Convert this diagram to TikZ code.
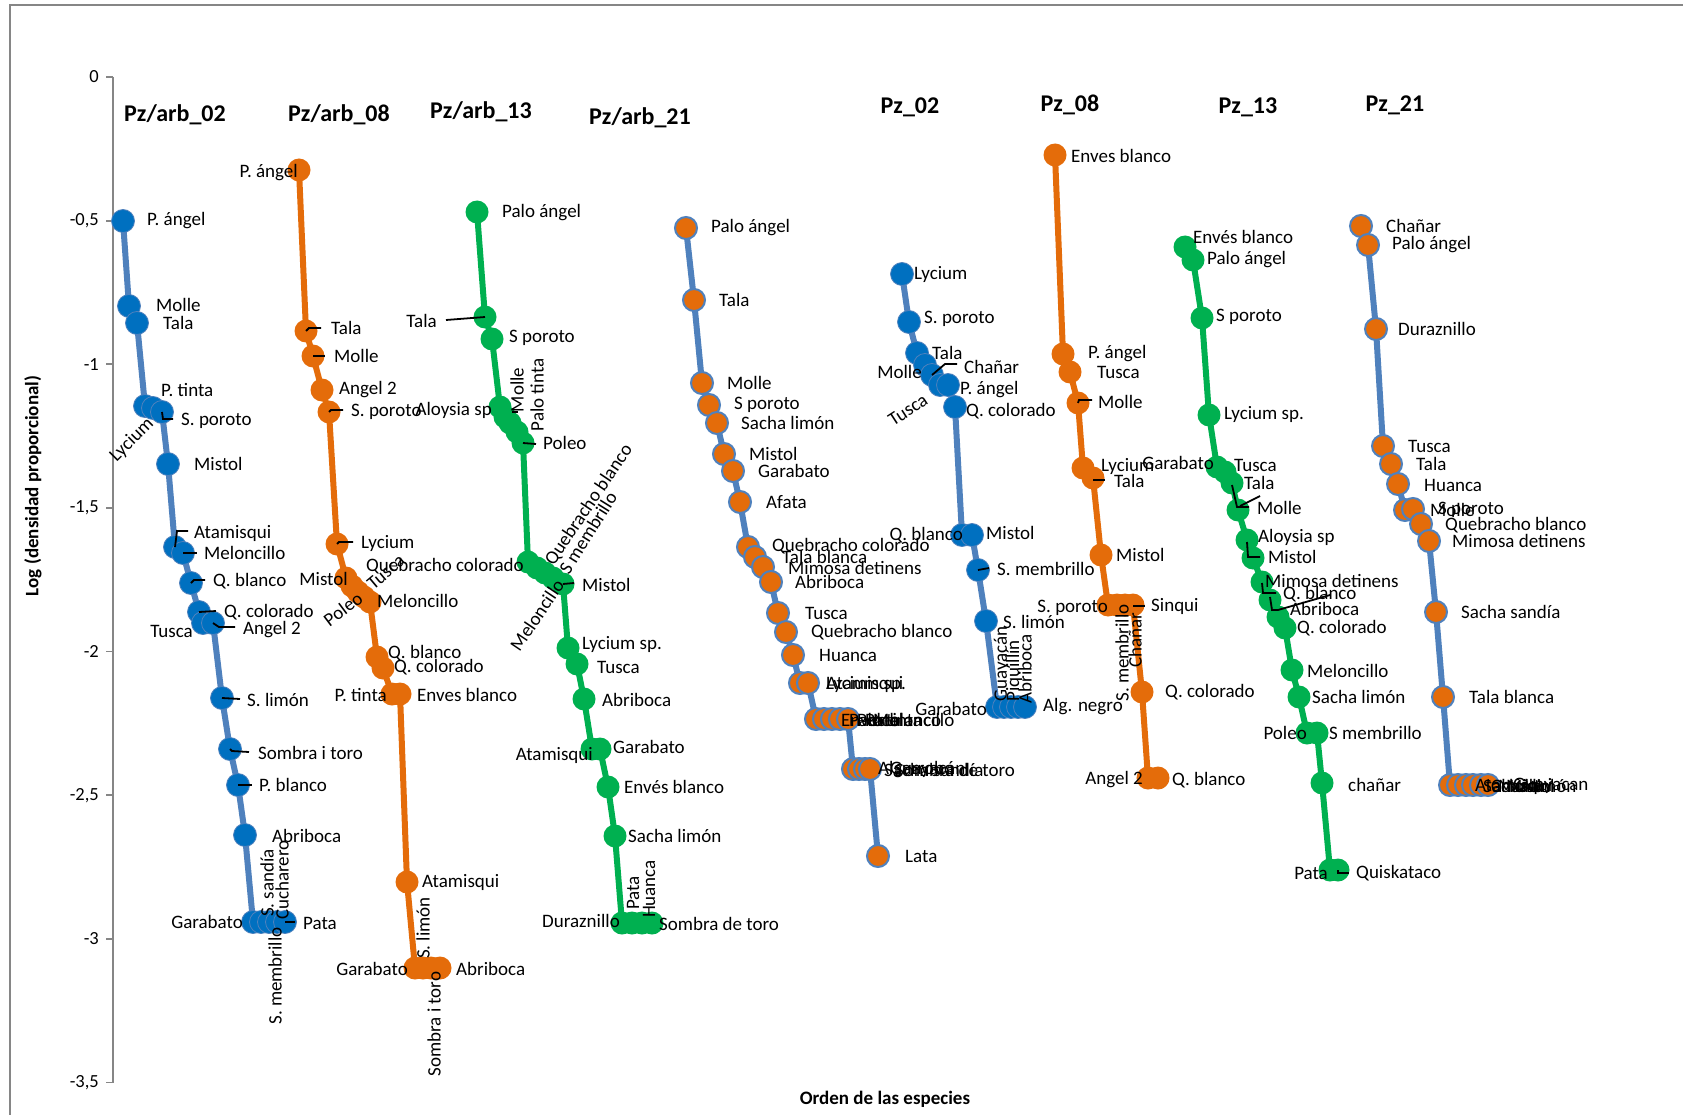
\documentclass[tikz,border=0pt]{standalone}
\usepackage{fontspec}
\setmainfont{Carlito}
\definecolor{dblue}{HTML}{0070C0}
\definecolor{lblue}{HTML}{4F81BD}
\definecolor{orng}{HTML}{E46C0A}
\definecolor{grn}{HTML}{00B050}
\definecolor{axgray}{HTML}{868686}
\tikzset{
 lab/.style={font=\fontsize{19}{19}\selectfont, inner sep=0pt, text=black},
 labr/.style={lab, anchor=west},
 labl/.style={lab, anchor=east},
 ttl/.style={font=\fontsize{24}{24}\selectfont\bfseries, inner sep=0pt},
 axt/.style={font=\fontsize{19}{19}\selectfont\bfseries, inner sep=0pt},
 tickl/.style={font=\fontsize{18.5}{18.5}\selectfont, inner sep=0pt, anchor=east},
 axis/.style={draw=axgray, line width=1.8pt},
 bdot/.style={circle, fill=dblue, draw=lblue, line width=0.8pt, minimum size=23pt, inner sep=0pt},
 odot/.style={circle, fill=orng, minimum size=23pt, inner sep=0pt},
 gdot/.style={circle, fill=grn, minimum size=23pt, inner sep=0pt},
 xdot/.style={circle, fill=orng, draw=lblue, line width=2pt, minimum size=22pt, inner sep=0pt},
 bline/.style={draw=lblue, line width=6pt, line join=round, line cap=round},
 oline/.style={draw=orng, line width=6pt, line join=round, line cap=round},
 gline/.style={draw=grn, line width=6pt, line join=round, line cap=round},
 lead/.style={draw=black, line width=1.8pt},
}
\begin{document}
\begin{tikzpicture}[x=1pt,y=-1pt]
\useasboundingbox (0,0) rectangle (1683,1115);
\fill[white] (0,0) rectangle (1683,1115);
% frame
\draw[draw=axgray, line width=2pt] (10,1115) -- (10,5) -- (1683,5);
% y axis
\draw[axis] (113,77) -- (113,1083);
\foreach \k in {0,...,7} \draw[axis] (106,77+143.64*\k) -- (113,77+143.64*\k);
\node[tickl] (t0) at (99,77) {0};
\node[tickl] (t1) at (99,220.6) {-0,5};
\node[tickl] (t2) at (99,364.3) {-1};
\node[tickl] (t3) at (99,507.9) {-1,5};
\node[tickl] (t4) at (99,651.6) {-2};
\node[tickl] (t5) at (99,795.2) {-2,5};
\node[tickl] (t6) at (99,938.8) {-3};
\node[tickl] (t7) at (99,1082.5) {-3,5};
\node[axt, rotate=90] (ylab) at (33,486) {Log (densidad proporcional)};
\node[axt] (xlab) at (885,1099) {Orden de las especies};
% titles
\node[ttl] (T1) at (175,115) {Pz/arb\_02};
\node[ttl] (T2) at (339,115) {Pz/arb\_08};
\node[ttl] (T3) at (481,112) {Pz/arb\_13};
\node[ttl] (T4) at (640,118) {Pz/arb\_21};
\node[ttl] (T5) at (910,107) {Pz\_02};
\node[ttl] (T6) at (1070,105) {Pz\_08};
\node[ttl] (T7) at (1248,107) {Pz\_13};
\node[ttl] (T8) at (1395,105) {Pz\_21};

% ===== Series A: Pz/arb_02
\coordinate (a1) at (123,221); \coordinate (a2) at (129,306); \coordinate (a3) at (137,323);
\coordinate (a4) at (145,406); \coordinate (a5) at (153,408); \coordinate (a6) at (162,412);
\coordinate (a7) at (168,464); \coordinate (a8) at (175,547); \coordinate (a9) at (183,553);
\coordinate (a10) at (191,583); \coordinate (a11) at (199,612); \coordinate (a12) at (203,623);
\coordinate (a13) at (213,623); \coordinate (a14) at (222,698); \coordinate (a15) at (230,749);
\coordinate (a16) at (238,785); \coordinate (a17) at (245,835); \coordinate (a18) at (253,922);
\coordinate (a19) at (261,922); \coordinate (a20) at (269,922); \coordinate (a21) at (277,922);
\coordinate (a22) at (285,922);
\draw[bline] (a1)--(a2)--(a3)--(a4)--(a5)--(a6)--(a7)--(a8)--(a9)--(a10)--(a11)--(a12)--(a13)--(a14)--(a15)--(a16)--(a17)--(a18)--(a19)--(a20)--(a21)--(a22);
\foreach \i in {1,...,22} \node[bdot] (A\i) at (a\i) {};

% ===== Series B: Pz/arb_08
\coordinate (b1) at (299,170); \coordinate (b2) at (306,331); \coordinate (b3) at (313,356);
\coordinate (b4) at (322,390); \coordinate (b5) at (329,412); \coordinate (b6) at (337,544);
\coordinate (b7) at (346,578); \coordinate (b8) at (352,586); \coordinate (b9) at (358,592);
\coordinate (b10) at (364,597); \coordinate (b11) at (370,602); \coordinate (b12) at (377,657);
\coordinate (b13) at (383,668); \coordinate (b14) at (392,694); \coordinate (b15) at (400,694);
\coordinate (b16) at (407,882); \coordinate (b17) at (415,968); \coordinate (b18) at (423,968);
\coordinate (b19) at (431,968); \coordinate (b20) at (440,968);
\draw[oline] (b1)--(b2)--(b3)--(b4)--(b5)--(b6)--(b7)--(b8)--(b9)--(b10)--(b11)--(b12)--(b13)--(b14)--(b15)--(b16)--(b17)--(b18)--(b19)--(b20);
\foreach \i in {1,...,20} \node[odot] (B\i) at (b\i) {};

% ===== Series C: Pz/arb_13
\coordinate (c1) at (477,212); \coordinate (c2) at (485,317); \coordinate (c3) at (492,339);
\coordinate (c4) at (500,407); \coordinate (c5) at (505,417); \coordinate (c6) at (510,423);
\coordinate (c7) at (517,432); \coordinate (c8) at (523,443); \coordinate (c9) at (528,562);
\coordinate (c10) at (537,568); \coordinate (c11) at (545,573); \coordinate (c12) at (553,578);
\coordinate (c13) at (563,584); \coordinate (c14) at (568,648); \coordinate (c15) at (577,664);
\coordinate (c16) at (584,699); \coordinate (c17) at (592,749); \coordinate (c18) at (600,749);
\coordinate (c19) at (608,787); \coordinate (c20) at (615,836); \coordinate (c21) at (622,923);
\coordinate (c22) at (632,923); \coordinate (c23) at (642,923); \coordinate (c24) at (652,923);
\draw[gline] (c1)--(c2)--(c3)--(c4)--(c5)--(c6)--(c7)--(c8)--(c9)--(c10)--(c11)--(c12)--(c13)--(c14)--(c15)--(c16)--(c17)--(c18)--(c19)--(c20)--(c21)--(c22)--(c23)--(c24);
\foreach \i in {1,...,24} \node[gdot] (C\i) at (c\i) {};

% ===== Series D: Pz/arb_21
\coordinate (d1) at (686,228); \coordinate (d2) at (694,300); \coordinate (d3) at (702,383);
\coordinate (d4) at (709,405); \coordinate (d5) at (717,423); \coordinate (d6) at (724,454);
\coordinate (d7) at (733,471); \coordinate (d8) at (740,502); \coordinate (d9) at (748,547);
\coordinate (d10) at (755,557); \coordinate (d11) at (763,567); \coordinate (d12) at (771,582);
\coordinate (d13) at (778,613); \coordinate (d14) at (786,632); \coordinate (d15) at (793,655);
\coordinate (d16) at (800,683); \coordinate (d17) at (808,683); \coordinate (d18) at (816,719);
\coordinate (d19) at (824,719); \coordinate (d20) at (832,719); \coordinate (d21) at (840,719);
\coordinate (d22) at (848,719); \coordinate (d23) at (853,769); \coordinate (d24) at (859,769);
\coordinate (d25) at (865,769); \coordinate (d26) at (870,769); \coordinate (d27) at (878,856);
\draw[bline] (d1)--(d2)--(d3)--(d4)--(d5)--(d6)--(d7)--(d8)--(d9)--(d10)--(d11)--(d12)--(d13)--(d14)--(d15)--(d16)--(d17)--(d18)--(d19)--(d20)--(d21)--(d22)--(d23)--(d24)--(d25)--(d26)--(d27);
\foreach \i in {1,...,27} \node[xdot] (D\i) at (d\i) {};

% ===== Series E: Pz_02
\coordinate (e1) at (902,274); \coordinate (e2) at (909,322); \coordinate (e3) at (917,353);
\coordinate (e4) at (925,365); \coordinate (e5) at (932,375); \coordinate (e6) at (940,385);
\coordinate (e7) at (948,385); \coordinate (e8) at (955,407); \coordinate (e9) at (962,535);
\coordinate (e10) at (972,535); \coordinate (e11) at (978,570); \coordinate (e12) at (986,621);
\coordinate (e13) at (997,707); \coordinate (e14) at (1004,707); \coordinate (e15) at (1011,707);
\coordinate (e16) at (1018,707); \coordinate (e17) at (1025,707);
\draw[bline] (e1)--(e2)--(e3)--(e4)--(e5)--(e6)--(e7)--(e8)--(e9)--(e10)--(e11)--(e12)--(e13)--(e14)--(e15)--(e16)--(e17);
\foreach \i in {1,...,17} \node[bdot] (E\i) at (e\i) {};

% ===== Series F: Pz_08
\coordinate (f1) at (1055,155); \coordinate (f2) at (1063,354); \coordinate (f3) at (1070,372);
\coordinate (f4) at (1078,403); \coordinate (f5) at (1083,468); \coordinate (f6) at (1093,478);
\coordinate (f7) at (1101,555); \coordinate (f8) at (1108,605); \coordinate (f9) at (1117,605);
\coordinate (f10) at (1125,605); \coordinate (f11) at (1133,605); \coordinate (f12) at (1142,692);
\coordinate (f13) at (1148,778); \coordinate (f14) at (1158,778);
\draw[oline] (f1)--(f2)--(f3)--(f4)--(f5)--(f6)--(f7)--(f8)--(f9)--(f10)--(f11)--(f12)--(f13)--(f14);
\foreach \i in {1,...,14} \node[odot] (F\i) at (f\i) {};

% ===== Series G: Pz_13
\coordinate (g1) at (1185,247); \coordinate (g2) at (1193,260); \coordinate (g3) at (1202,318);
\coordinate (g4) at (1209,415); \coordinate (g5) at (1217,467); \coordinate (g6) at (1225,472);
\coordinate (g7) at (1232,483); \coordinate (g8) at (1238,510); \coordinate (g9) at (1247,540);
\coordinate (g10) at (1253,558); \coordinate (g11) at (1262,582); \coordinate (g12) at (1270,600);
\coordinate (g13) at (1278,617); \coordinate (g14) at (1285,628); \coordinate (g15) at (1292,670);
\coordinate (g16) at (1299,697); \coordinate (g17) at (1307,733); \coordinate (g18) at (1317,733);
\coordinate (g19) at (1322,783); \coordinate (g20) at (1330,870); \coordinate (g21) at (1338,870);
\draw[gline] (g1)--(g2)--(g3)--(g4)--(g5)--(g6)--(g7)--(g8)--(g9)--(g10)--(g11)--(g12)--(g13)--(g14)--(g15)--(g16)--(g17)--(g18)--(g19)--(g20)--(g21);
\foreach \i in {1,...,21} \node[gdot] (G\i) at (g\i) {};

% ===== Series H: Pz_21
\coordinate (h1) at (1361,226); \coordinate (h2) at (1368,245); \coordinate (h3) at (1376,329);
\coordinate (h4) at (1383,446); \coordinate (h5) at (1391,464); \coordinate (h6) at (1398,484);
\coordinate (h7) at (1405,510); \coordinate (h8) at (1413,509); \coordinate (h9) at (1421,524);
\coordinate (h10) at (1429,541); \coordinate (h11) at (1436,612); \coordinate (h12) at (1443,697);
\coordinate (h13) at (1450,785); \coordinate (h14) at (1458,785); \coordinate (h15) at (1466,785);
\coordinate (h16) at (1473,785); \coordinate (h17) at (1481,785); \coordinate (h18) at (1488,785);
\draw[bline] (h1)--(h2)--(h3)--(h4)--(h5)--(h6)--(h7)--(h8)--(h9)--(h10)--(h11)--(h12)--(h13)--(h14)--(h15)--(h16)--(h17)--(h18);
\foreach \i in {1,...,18} \node[xdot] (H\i) at (h\i) {};

% ===== Labels A
\node[labr] (la1) at (147,221) {P. ángel};
\node[labr] (la2) at (156,305) {Molle};
\node[labr] (la3) at (163,323) {Tala};
\node[labr] (la4) at (161,390) {P. tinta};
\node[labr] (la6) at (181,421) {S. poroto};
\node[lab, rotate=45] (la5) at (132,440) {Lycium};
\node[labr] (la7) at (194,464) {Mistol};
\node[labr] (la8) at (194,533) {Atamisqui};
\node[labr] (la9) at (204,553) {Meloncillo};
\node[labr] (la10) at (213,581) {Q. blanco};
\node[labr] (la11) at (224,612) {Q. colorado};
\node[labl] (la12) at (193,631) {Tusca};
\node[labr] (la13) at (243,630) {Angel 2};
\node[labr] (la14) at (247,700) {S. limón};
\node[labr] (la15) at (258,753) {Sombra i toro};
\node[labr] (la16) at (259,785) {P. blanco};
\node[labr] (la17) at (272,836) {Abriboca};
\node[labl] (la18) at (243,922) {Garabato};
\node[labr] (la22) at (303,923) {Pata};
\node[lab, rotate=90] (la20) at (267,883) {S. sandía};
\node[lab, rotate=90] (la21) at (282,880) {Cucharero};
\node[lab, rotate=90] (la19) at (275,976) {S. membrillo};
\draw[lead] (A6.center) -- ++(1,7) -- ++(10,0);
\draw[lead] (A8.center) -- ++(2,-16) -- ++(11,0);
\draw[lead] (A9.center) -- ++(14,0);
\draw[lead] (A10.center) -- ++(3,-3) -- ++(11,0);
\draw[lead] (A11.center) -- ++(17,-1);
\draw[lead] (A13.center) -- ++(6,4) -- ++(16,0);
\draw[lead] (A14.center) -- ++(18,1);
\draw[lead] (A15.center) -- ++(2,2) -- ++(17,1);
\draw[lead] (A16.center) -- ++(14,0);
\draw[lead] (A22.center) -- ++(10,0);

% ===== Labels B
\node[labl] (lb1) at (298,173) {P. ángel};
\node[labr] (lb2) at (331,328) {Tala};
\node[labr] (lb3) at (334,356) {Molle};
\node[labr] (lb4) at (339,390) {Angel 2};
\node[labr] (lb5) at (351,412) {S. poroto};
\node[labr] (lb6) at (361,543) {Lycium};
\node[labl] (lb7) at (348,579) {Mistol};
\node[lab, rotate=37] (lb8) at (343,609) {Poleo};
\node[lab, rotate=40] (lb9) at (386,572) {Tusca};
\node[labr] (lb10) at (366,566) {Quebracho colorado};
\node[labr] (lb11) at (377,601) {Meloncillo};
\node[labr] (lb12) at (388,653) {Q. blanco};
\node[labr] (lb13) at (394,667) {Q. colorado};
\node[labl] (lb14) at (387,695) {P. tinta};
\node[labr] (lb15) at (417,695) {Enves blanco};
\node[labr] (lb16) at (422,882) {Atamisqui};
\node[labl] (lb17) at (408,969) {Garabato};
\node[labr] (lb20) at (456,969) {Abriboca};
\node[lab, rotate=90] (lb18) at (423,928) {S. limón};
\node[lab, rotate=90] (lb19) at (434,1024) {Sombra i toro};
\draw[lead] (B2.center) -- ++(3,-3) -- ++(12,0);
\draw[lead] (B3.center) -- ++(12,0);
\draw[lead] (B5.center) -- ++(2,-2) -- ++(12,0);
\draw[lead] (B6.center) -- ++(2,-2) -- ++(14,0);

% ===== Labels C
\node[labr] (lc1) at (502,213) {Palo ángel};
\node[labl] (lc2) at (437,321) {Tala};
\node[labr] (lc3) at (509,338) {S poroto};
\node[labl] (lc4) at (492,410) {Aloysia sp};
\node[lab, rotate=90] (lc5) at (517,390) {Molle};
\node[lab, rotate=90] (lc6) at (537,395) {Palo tinta};
\node[labr] (lc8) at (543,443) {Poleo};
\node[lab, rotate=56] (lc10) at (537,615) {Meloncillo};
\node[lab, rotate=56] (lc11) at (589,505) {Quebracho blanco};
\node[lab, rotate=58] (lc12) at (588,533) {S membrillo};
\node[labr] (lc13) at (582,585) {Mistol};
\node[labr] (lc14) at (582,644) {Lycium sp.};
\node[labr] (lc15) at (597,667) {Tusca};
\node[labr] (lc16) at (602,700) {Abriboca};
\node[labl] (lc17) at (593,755) {Atamisqui};
\node[labr] (lc18) at (613,747) {Garabato};
\node[labr] (lc19) at (624,787) {Envés blanco};
\node[labr] (lc20) at (628,836) {Sacha limón};
\node[labl] (lc21) at (620,921) {Duraznillo};
\node[lab, rotate=90] (lc22) at (633,893) {Pata};
\node[lab, rotate=90] (lc23) at (649,889) {Huanca};
\node[labr] (lc24) at (659,924) {Sombra de toro};
\draw[lead] (C2.center) -- (446,320);
\draw[lead] (C5.center) ++(7,-5) -- ++(6,0);
\draw[lead] (C8.center) -- ++(13,1);
\draw[lead] (C13.center) -- ++(11,-1);

% ===== Labels D
\node[labr] (ld1) at (711,228) {Palo ángel};
\node[labr] (ld2) at (719,300) {Tala};
\node[labr] (ld3) at (727,383) {Molle};
\node[labr] (ld4) at (734,405) {S poroto};
\node[labr] (ld5) at (741,423) {Sacha limón};
\node[labr] (ld6) at (749,454) {Mistol};
\node[labr] (ld7) at (758,471) {Garabato};
\node[labr] (ld8) at (766,502) {Afata};
\node[labr] (ld9) at (772,546) {Quebracho colorado};
\node[labr] (ld10) at (782,557) {Tala blanca};
\node[labr] (ld11) at (788,568) {Mimosa detinens};
\node[labr] (ld12) at (795,582) {Abriboca};
\node[labr] (ld13) at (805,613) {Tusca};
\node[labr] (ld14) at (811,632) {Quebracho blanco};
\node[labr] (ld15) at (819,655) {Huanca};
\node[labr] (ld16) at (826,684) {Atamisqui};
\node[labr] (ld17) at (826,684) {Lycium sp.};
\node[labr] (ld18) at (841,720) {Enves blanco};
\node[labr] (ld19) at (849,720) {Palo tinta};
\node[labr] (ld20) at (857,720) {Poleo};
\node[labr] (ld21) at (865,720) {Pata};
\node[labr] (ld22) at (873,720) {Meloncillo};
\node[labr] (ld23) at (878,770) {Algarrobo};
\node[labr] (ld24) at (884,770) {Sacha sandía};
\node[labr] (ld25) at (890,770) {Guayacán};
\node[labr] (ld26) at (895,770) {Sombra de toro};
\node[labr] (ld27) at (905,856) {Lata};

% ===== Labels E
\node[labr] (le1) at (914,274) {Lycium};
\node[labr] (le2) at (924,319) {S. poroto};
\node[labr] (le3) at (932,353) {Tala};
\node[labl] (le4) at (922,372) {Molle};
\node[labr] (le5) at (964,367) {Chañar};
\node[lab, rotate=33] (le6) at (908,410) {Tusca};
\node[labr] (le7) at (960,390) {P. ángel};
\node[labr] (le8) at (966,411) {Q. colorado};
\node[labl] (le9) at (963,535) {Q. blanco};
\node[labr] (le10) at (986,533) {Mistol};
\node[labr] (le11) at (997,569) {S. membrillo};
\node[labr] (le12) at (1003,622) {S. limón};
\node[labl] (le13) at (987,709) {Garabato};
\node[lab, rotate=90] (le14) at (1002,664) {Guayacán};
\node[lab, rotate=90] (le15) at (1014,671) {Piquillín};
\node[lab, rotate=90] (le16) at (1025,669) {Abriboca};
\node[labr] (le17) at (1043,707) {Alg. negro};
\draw[lead] (E5.center) -- ++(13,-11) -- ++(12,0);
\draw[lead] (E11.center) -- ++(11,-2);

% ===== Labels F
\node[labr] (lf1) at (1071,156) {Enves blanco};
\node[labr] (lf2) at (1088,354) {P. ángel};
\node[labr] (lf3) at (1097,372) {Tusca};
\node[labr] (lf4) at (1098,402) {Molle};
\node[labr] (lf5) at (1101,466) {Lycium};
\node[labr] (lf6) at (1114,481) {Tala};
\node[labr] (lf7) at (1116,555) {Mistol};
\node[labl] (lf8) at (1108,608) {S. poroto};
\node[lab, rotate=90] (lf9) at (1122,653) {S. membrillo};
\node[lab, rotate=90] (lf10) at (1135,640) {Chañar};
\node[labr] (lf11) at (1151,606) {Sinqui};
\node[labr] (lf12) at (1165,692) {Q. colorado};
\node[labl] (lf13) at (1143,780) {Angel 2};
\node[labr] (lf14) at (1172,780) {Q. blanco};
\draw[lead] (F4.center) -- ++(1,-3) -- ++(13,0);
\draw[lead] (F6.center) ++(0,2) -- ++(12,0);
\draw[lead] (F11.center) ++(0,1) -- ++(12,0);

% ===== Labels G
\node[labr] (lg1) at (1193,237) {Envés blanco};
\node[labr] (lg2) at (1207,260) {Palo ángel};
\node[labr] (lg3) at (1216,317) {S poroto};
\node[labr] (lg4) at (1224,414) {Lycium sp.};
\node[labl] (lg5) at (1214,463) {Garabato};
\node[labr] (lg6) at (1234,465) {Tusca};
\node[labr] (lg7) at (1244,483) {Tala};
\node[labr] (lg8) at (1257,508) {Molle};
\node[labr] (lg9) at (1258,537) {Aloysia sp};
\node[labr] (lg10) at (1268,557) {Mistol};
\node[labr] (lg11) at (1265,581) {Mimosa detinens};
\node[labr] (lg12) at (1283,594) {Q. blanco};
\node[labr] (lg13) at (1290,609) {Abriboca};
\node[labr] (lg14) at (1297,628) {Q. colorado};
\node[labr] (lg15) at (1307,671) {Meloncillo};
\node[labr] (lg16) at (1312,697) {Sacha limón};
\node[labl] (lg17) at (1307,733) {Poleo};
\node[labr] (lg18) at (1329,733) {S membrillo};
\node[labr] (lg19) at (1348,785) {chañar};
\node[labl] (lg20) at (1328,873) {Pata};
\node[labr] (lg21) at (1356,873) {Quiskataco};
\draw[lead] (G7.center) ++(0,2) -- ++(5,22) -- ++(12,0);
\draw[lead] (G8.center) ++(2,-4) -- ++(20,-10);
\draw[lead] (G9.center) ++(0,2) -- ++(1,15) -- ++(12,0);
\draw[lead] (G11.center) ++(0,1) -- ++(1,10) -- ++(13,0);
\draw[lead] (G12.center) ++(0,-3) -- ++(2,13) -- ++(6,0) -- ++(52,-15);
\draw[lead] (G21.center) -- ++(0,3) -- ++(11,0);

% ===== Labels H
\node[labr] (lh1) at (1386,226) {Chañar};
\node[labr] (lh2) at (1392,245) {Palo ángel};
\node[labr] (lh3) at (1398,329) {Duraznillo};
\node[labr] (lh4) at (1408,446) {Tusca};
\node[labr] (lh5) at (1416,464) {Tala};
\node[labr] (lh6) at (1424,485) {Huanca};
\node[labr] (lh7) at (1430,510) {Molle};
\node[labr] (lh8) at (1438,510) {S poroto};
\node[labr] (lh9) at (1445,525) {Quebracho blanco};
\node[labr] (lh10) at (1452,541) {Mimosa detinens};
\node[labr] (lh11) at (1461,612) {Sacha sandía};
\node[labr] (lh12) at (1469,697) {Tala blanca};
\node[labr] (lh13) at (1475,786) {Atamisqui};
\node[labr] (lh14) at (1483,786) {Sacha limón};
\node[labr] (lh15) at (1491,786) {Chañar};
\node[labr] (lh16) at (1498,786) {Molle};
\node[labr] (lh17) at (1506,786) {Mistol};
\node[labr] (lh18) at (1513,786) {Guayacan};
\end{tikzpicture}
\end{document}
